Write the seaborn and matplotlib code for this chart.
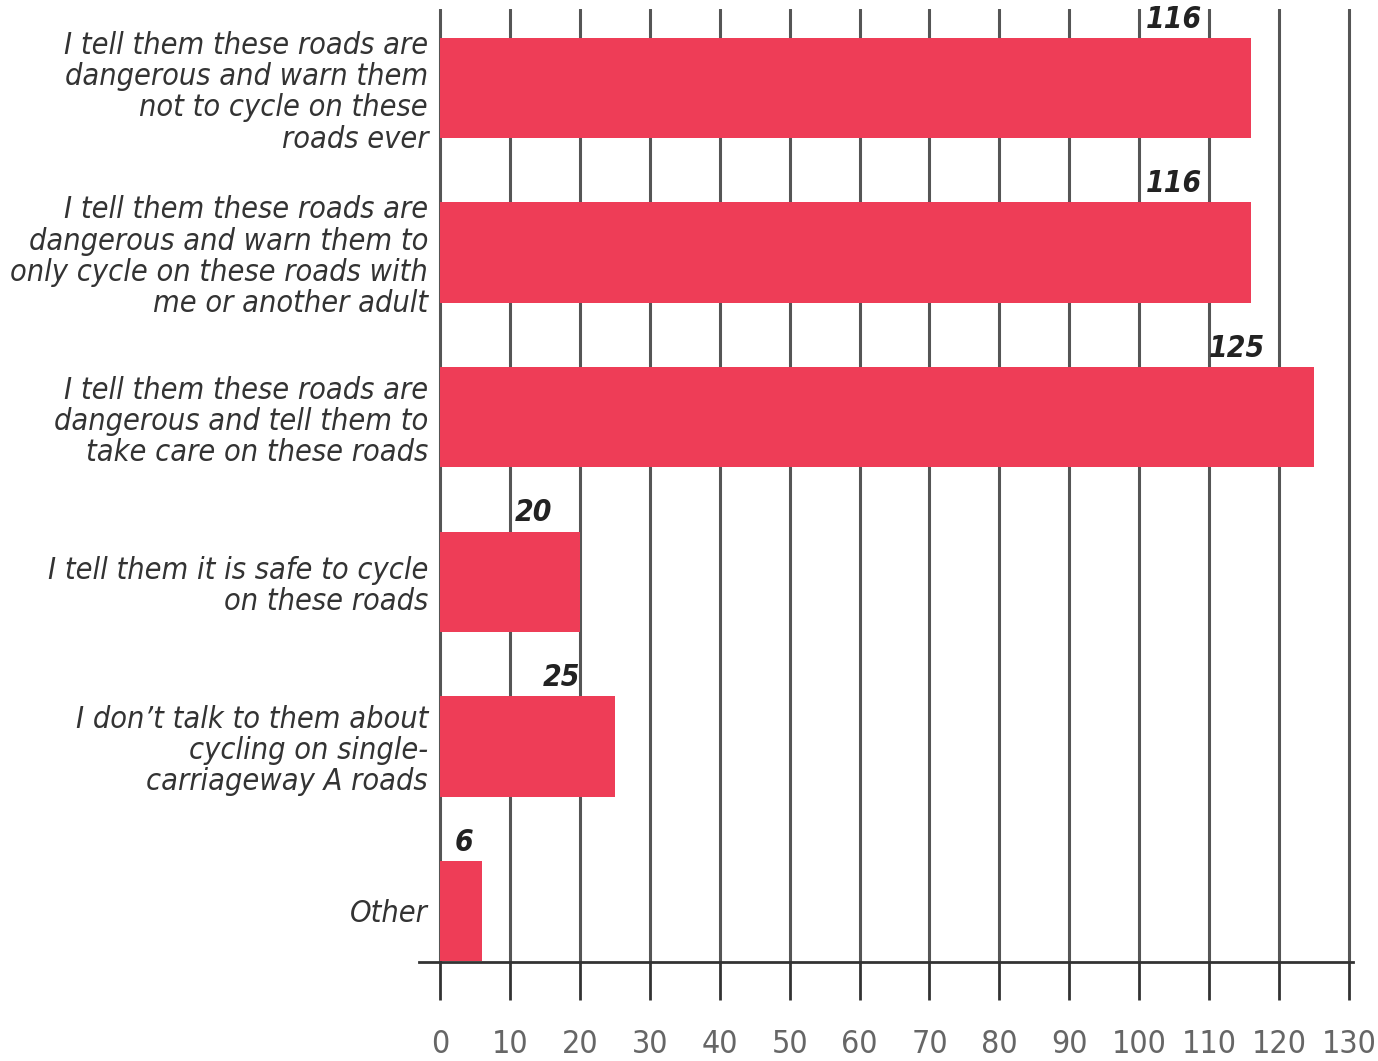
import matplotlib
matplotlib.use("Agg")
import matplotlib.pyplot as plt
import seaborn as sns
import pandas as pd

categories = [
    "I tell them these roads are\ndangerous and warn them\nnot to cycle on these\nroads ever",
    "I tell them these roads are\ndangerous and warn them to\nonly cycle on these roads with\nme or another adult",
    "I tell them these roads are\ndangerous and tell them to\ntake care on these roads",
    "I tell them it is safe to cycle\non these roads",
    "I don\u2019t talk to them about\ncycling on single-\ncarriageway A roads",
    "Other",
]
values = [116, 116, 125, 20, 25, 6]
xticks = list(range(0, 131, 10))

BAR = "#EE3D57"

sns.set_theme(style="white")
plt.rcParams["font.family"] = ["DejaVu Sans"]
plt.rcParams["font.stretch"] = "condensed"

df = pd.DataFrame({"cat": categories, "val": values})

fig = plt.figure(figsize=(13.78, 10.61), dpi=100)
ax = fig.add_axes([419 / 1378, 1 - 962 / 1061, 933.5 / 1378, (962 - 9) / 1061])

sns.barplot(data=df, x="val", y="cat", orient="h", color=BAR, width=0.61,
            saturation=1, linewidth=0, ax=ax, zorder=3)

ax.set_xlim(-3, 130.5)
ax.set_ylim(5.31, -0.48)
ax.set_xticks(xticks)
ax.set_xticklabels([str(t) for t in xticks], fontsize=23, color="#666666",
                   fontstretch="condensed")
ax.set_xlabel("")
ax.set_ylabel("")

ax.set_axisbelow(True)
ax.xaxis.grid(True, color="#555555", lw=2.2)
ax.yaxis.grid(False)
for s in ["top", "right", "left"]:
    ax.spines[s].set_visible(False)
ax.spines["bottom"].set_color("#333333")
ax.spines["bottom"].set_linewidth(2)

ax.tick_params(axis="x", direction="out", length=27, width=2, color="#333333",
               pad=21, bottom=True)
ax.tick_params(axis="y", length=0, pad=-6.5)
for lab in ax.get_yticklabels():
    lab.set_fontsize(22)
    lab.set_fontstyle("italic")
    lab.set_fontstretch("condensed")
    lab.set_color("#333333")
    lab.set_linespacing(1.1)
    lab.set_horizontalalignment("right")

for i, v in enumerate(values):
    ax.text(v - min(7, v * 0.2), i - 0.33, str(v), ha="right", va="bottom",
            fontsize=21.5, fontweight="bold", fontstyle="italic",
            fontstretch="condensed", color="#222222", zorder=4)

fig.savefig("out.png", dpi=100)
